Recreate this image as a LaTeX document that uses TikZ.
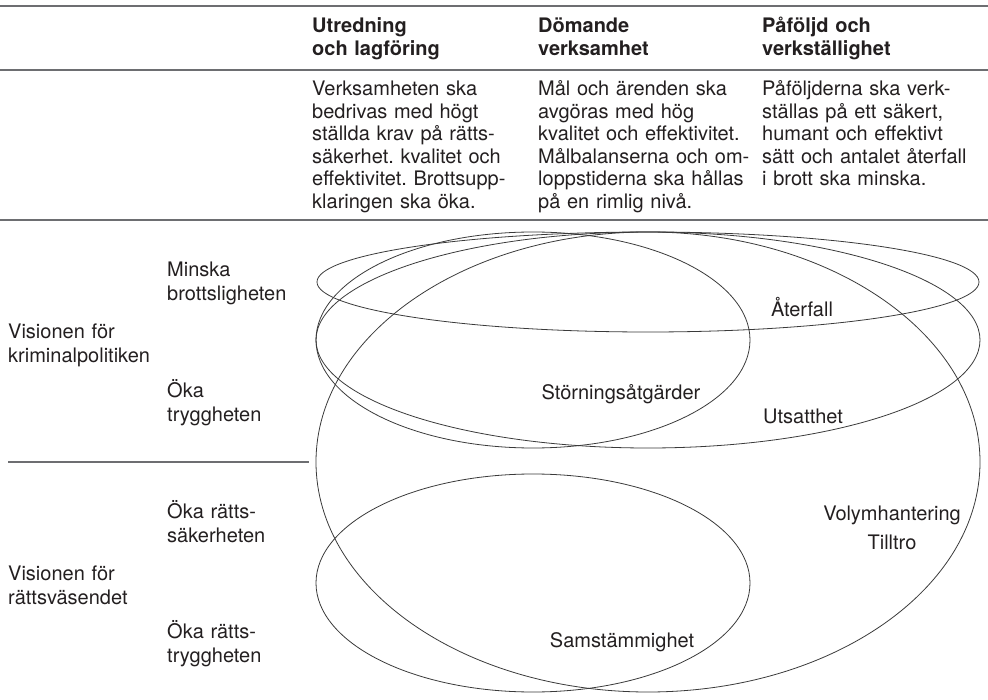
\documentclass[tikz,border=0pt]{standalone}
\usepackage{fontspec}
\setmainfont{TeX Gyre Heros}
\usetikzlibrary{positioning}
\definecolor{ink}{HTML}{231F20}
\definecolor{rulegray}{HTML}{6D6E71}
\definecolor{ring}{HTML}{3A3A3A}
\frenchspacing

\begin{document}
\begin{tikzpicture}[
    x=1pt, y=-1pt,
    font=\fontsize{20}{22.5}\selectfont,
    txt/.style={anchor=base west, inner sep=0pt, text=ink, align=left,
                text width=222pt},
    head/.style={txt, font=\fontsize{20}{23}\selectfont\bfseries},
    side/.style={txt, font=\fontsize{20}{24}\selectfont, text width=180pt},
    lbl/.style={anchor=base, inner sep=0pt, text=ink},
    tabrule/.style={rulegray, line width=1.3pt},
    set/.style={ring, line width=0.8pt},
  ]

\useasboundingbox (0,0) rectangle (988,700);

% table rules
\draw[tabrule] (0,6) -- (988,6);
\draw[tabrule] (0,70) -- (988,70);
\draw[tabrule] (0,220) -- (988,220);
\draw[tabrule] (8,462) -- (309,462);

% column heads
\node[head] (utr) at (312,33) {Utredning\\och lagföring};
\node[head] (dom) at (538,33) {Dömande\\verksamhet};
\node[head] (paf) at (762,33) {Påföljd och\\verkställighet};

% column texts
\node[txt] (utrtxt) at (312,96)
  {Verksamheten ska\\bedrivas med högt\\ställda krav på rätts-\\säkerhet. kvalitet och\\effektivitet. Brottsupp-\\klaringen ska öka.};
\node[txt] (domtxt) at (538,96)
  {Mål och ärenden ska\\avgöras med hög\\kvalitet och effektivitet.\\Målbalanserna och om-\\loppstiderna ska hållas\\på en rimlig nivå.};
\node[txt] (paftxt) at (762,96)
  {Påföljderna ska verk-\\ställas på ett säkert,\\humant och effektivt\\sätt och antalet återfall\\i brott ska minska.};

% visions and goals
\node[side] (krim) at (8,339) {Visionen för\\kriminalpolitiken};
\node[side] (minska) at (167,277) {Minska\\brottsligheten};
\node[side] (trygg) at (167,398) {Öka\\tryggheten};
\node[side] (ratt) at (8,580) {Visionen för\\rättsväsendet};
\node[side] (rsak) at (167,518) {Öka rätts-\\säkerheten};
\node[side] (rtrygg) at (167,638) {Öka rätts-\\tryggheten};

% overlapping sets
\draw[set] (648,282) ellipse (331pt and 50pt);
\draw[set] (533,340) ellipse (217pt and 108pt);
\draw[set] (648,340) ellipse (332pt and 108pt);
\draw[set] (648,462) ellipse (332pt and 230pt);
\draw[set] (533,583) ellipse (217pt and 109pt);

% set labels
\node[lbl] (aterfall) at (802,317) {Återfall};
\node[lbl] (storning) at (621,400) {Störningsåtgärder};
\node[lbl] (utsatt) at (803,424) {Utsatthet};
\node[lbl] (volym) at (892,520) {Volymhantering};
\node[lbl] (tilltro) at (892,549) {Tilltro};
\node[lbl] (samst) at (622,647) {Samstämmighet};

\end{tikzpicture}
\end{document}
